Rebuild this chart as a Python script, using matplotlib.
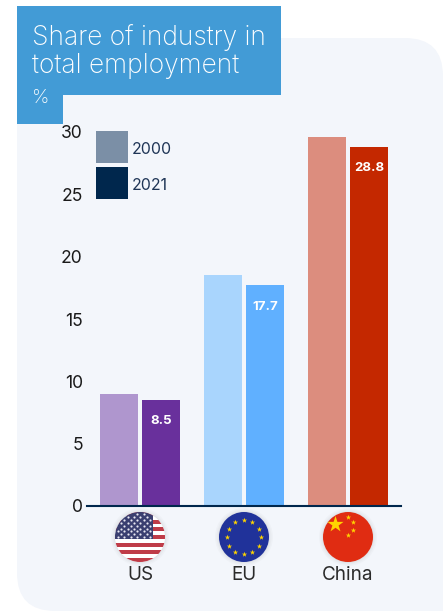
import numpy as np
import matplotlib
matplotlib.use("Agg")
import matplotlib.pyplot as plt
from matplotlib.patches import Rectangle, Circle, FancyBboxPatch

plt.rcParams['font.family'] = ['Inter', 'DejaVu Sans']

regions = ["US", "EU", "China"]
share_2000 = [9.0, 18.5, 29.6]
share_2021 = [8.5, 17.7, 28.8]
colors_2000 = ["#AF96CE", "#A9D5FD", "#DC8D7E"]
colors_2021 = ["#69309C", "#60B0FF", "#C42800"]
y_ticks = [0, 5, 10, 15, 20, 25, 30]
W, H = 443, 611

fig = plt.figure(figsize=(W / 100, H / 100), dpi=100, facecolor="white")

# page layer in pixels, y going down
bg = fig.add_axes([0, 0, 1, 1])
bg.set_xlim(0, W)
bg.set_ylim(H, 0)
bg.axis("off")
panel = "#F3F6FB"
bg.add_patch(FancyBboxPatch((17, 38), W - 17, H - 38, boxstyle="round,pad=0,rounding_size=38", fc=panel, ec="none"))
bg.add_patch(Rectangle((17, 38), 60, 60, fc=panel, ec="none"))
bg.add_patch(Rectangle((W - 60, H - 60), 60, 60, fc=panel, ec="none"))

blue = "#429BD6"
bg.add_patch(Rectangle((17, 6), 264, 89, fc=blue, ec="none"))
bg.add_patch(Rectangle((17, 95), 46, 29, fc=blue, ec="none"))
bg.text(32, 45, "Share of industry in", color="white", fontsize=19, va="baseline", ha="left", fontweight="light")
bg.text(32, 73, "total employment", color="white", fontsize=19, va="baseline", ha="left", fontweight="light")
bg.text(32, 103, "%", color="white", fontsize=14, va="baseline", ha="left", fontweight="light")

# legend
bg.add_patch(Rectangle((96, 131), 32, 32, fc="#7B8FA6", ec="none"))
bg.add_patch(Rectangle((96, 167), 32, 32, fc="#00274D", ec="none"))
bg.text(132, 154, "2000", color="#1F3556", fontsize=11.4, va="baseline", ha="left")
bg.text(132, 190, "2021", color="#1F3556", fontsize=11.4, va="baseline", ha="left")

# chart
y0, y30 = 506, 132
ax = fig.add_axes([87 / W, 1 - y0 / H, (401 - 87) / W, (y0 - y30) / H])
ax.patch.set_alpha(0)
ax.set_xlim(-53 / 104, 261 / 104)
ax.set_ylim(0, 30)
x = np.arange(len(regions))
ax.bar(x - 21 / 104, share_2000, 38 / 104, color=colors_2000)
ax.bar(x + 21 / 104, share_2021, 38 / 104, color=colors_2021)
for i in x:
    ax.text(i + 21 / 104, share_2021[i] - 1.7, "%.1f" % share_2021[i], color="white", fontsize=9.5,
            fontweight="bold", ha="center", va="center")
for s in ["top", "right", "left"]:
    ax.spines[s].set_visible(False)
ax.spines["bottom"].set_color("#00274D")
ax.spines["bottom"].set_linewidth(1.5)
ax.set_yticks(y_ticks)
ax.tick_params(axis="y", length=0, pad=3, labelsize=12.6, labelcolor="#1A1A1A")
ax.set_xticks(x)
ax.set_xticklabels(regions, fontsize=13.6, color="#2A2A2A")
ax.tick_params(axis="x", length=0, pad=43)


def star(cx, cy, size, color="#FFD500"):
    bg.scatter([cx], [cy], s=size, marker="*", color=color, linewidths=0, zorder=6)


def disc(cx, cy, color):
    # soft shadow then the flag base
    for r, a in [(29, 0.03), (27.5, 0.04), (26, 0.06)]:
        bg.add_patch(Circle((cx, cy), r, fc="#666666", alpha=a, ec="none", zorder=3))
    c = Circle((cx, cy), 25, fc=color, ec="none", zorder=4)
    bg.add_patch(c)
    return c


# US flag
cx, cy = 140, 537
clip = disc(cx, cy, "white")
for k in range(13):
    if k % 2 == 0:
        p = Rectangle((cx - 25, cy - 25 + k * 50 / 13), 50, 50 / 13, fc="#BF3C48", ec="none", zorder=5)
        bg.add_patch(p)
        p.set_clip_path(clip)
p = Rectangle((cx - 25, cy - 25), 38, 27, fc="#3A3F70", ec="none", zorder=5)
bg.add_patch(p)
p.set_clip_path(clip)
for row in range(9):
    for col in range(6 if row % 2 == 0 else 5):
        sx = cx - 22 + col * 6.4 + (0 if row % 2 == 0 else 3.2)
        sy = cy - 23 + row * 2.9
        if (sx - cx) ** 2 + (sy - cy) ** 2 < 24 ** 2:
            bg.scatter([sx], [sy], s=2.5, color="#E8E8F2", linewidths=0, zorder=6)

# EU flag
cx, cy = 244, 537
disc(cx, cy, "#20329A")
for a in np.arange(0, 360, 30):
    star(cx + 17 * np.cos(np.radians(a)), cy + 17 * np.sin(np.radians(a)), 16)

# China flag
cx, cy = 348, 537
disc(cx, cy, "#E02C12")
star(cx - 13, cy - 13, 150)
star(cx + 0, cy - 20, 16)
star(cx + 5, cy - 15, 16)
star(cx + 5, cy - 7, 16)
star(cx + 0, cy - 2, 16)

fig.savefig("out.png", dpi=100)
